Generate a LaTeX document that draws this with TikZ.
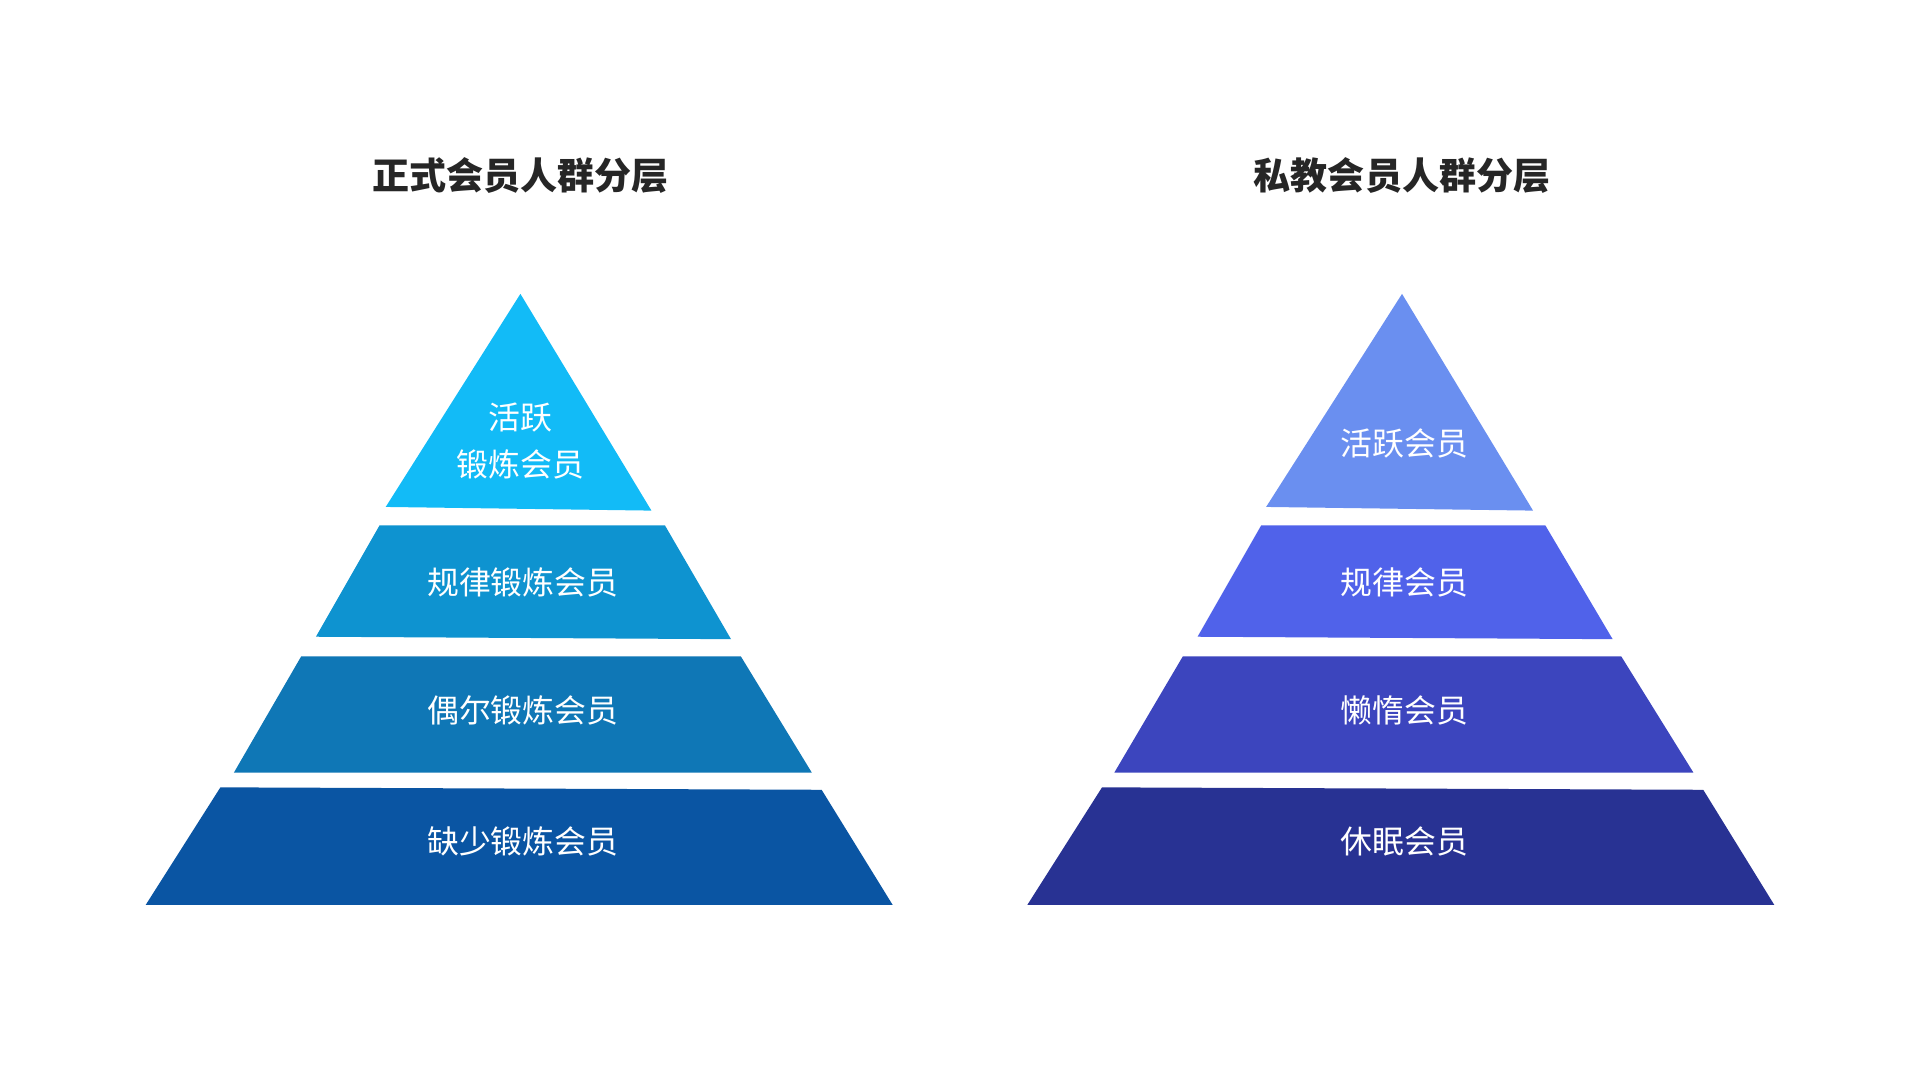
\documentclass[tikz,border=0pt]{standalone}
\usepackage{fontspec}
\newfontfamily\cjk{Noto Sans CJK SC}
\definecolor{skyA}{HTML}{12BBF7}
\definecolor{skyB}{HTML}{0E93D0}
\definecolor{skyC}{HTML}{0F77B6}
\definecolor{skyD}{HTML}{0A55A3}
\definecolor{blueA}{HTML}{6A8FF0}
\definecolor{blueB}{HTML}{5062EA}
\definecolor{blueC}{HTML}{3C45BE}
\definecolor{blueD}{HTML}{283293}
\tikzset{
  title/.style={font=\cjk\fontsize{8.6}{10}\selectfont\bfseries, text=black!85},
  layer/.style={font=\cjk\fontsize{7.4}{11}\selectfont, text=white, align=center}
}
\begin{document}
\begin{tikzpicture}[x=0.01cm, y=-0.01cm]
    % Canvas
    \useasboundingbox (0,0) rectangle (1568,882);
    % Left pyramid (formal members)
    \fill[skyA] (425,240) -- (532,417) -- (315,414) -- cycle;
    \fill[skyB] (310,429) -- (543,429) -- (597,522) -- (258,520) -- cycle;
    \fill[skyC] (246,536) -- (605,536) -- (663,631) -- (191,631) -- cycle;
    \fill[skyD] (180,643) -- (671,645) -- (729,739) -- (119,739) -- cycle;
    \node[title] (titleL) at (425,143) {正式会员人群分层};
    \node[layer] (l1) at (425,360) {活跃\\锻炼会员};
    \node[layer] (l2) at (427,476) {规律锻炼会员};
    \node[layer] (l3) at (427,580) {偶尔锻炼会员};
    \node[layer] (l4) at (427,687) {缺少锻炼会员};
    % Right pyramid (private training members)
    \fill[blueA] (1145,240) -- (1252,417) -- (1034,414) -- cycle;
    \fill[blueB] (1030,429) -- (1262,429) -- (1317,522) -- (978,520) -- cycle;
    \fill[blueC] (966,536) -- (1324,536) -- (1383,631) -- (910,631) -- cycle;
    \fill[blueD] (900,643) -- (1391,645) -- (1449,739) -- (839,739) -- cycle;
    \node[title] (titleR) at (1145,143) {私教会员人群分层};
    \node[layer] (r1) at (1147,362) {活跃会员};
    \node[layer] (r2) at (1147,476) {规律会员};
    \node[layer] (r3) at (1147,580) {懒惰会员};
    \node[layer] (r4) at (1147,687) {休眠会员};
\end{tikzpicture}
\end{document}
